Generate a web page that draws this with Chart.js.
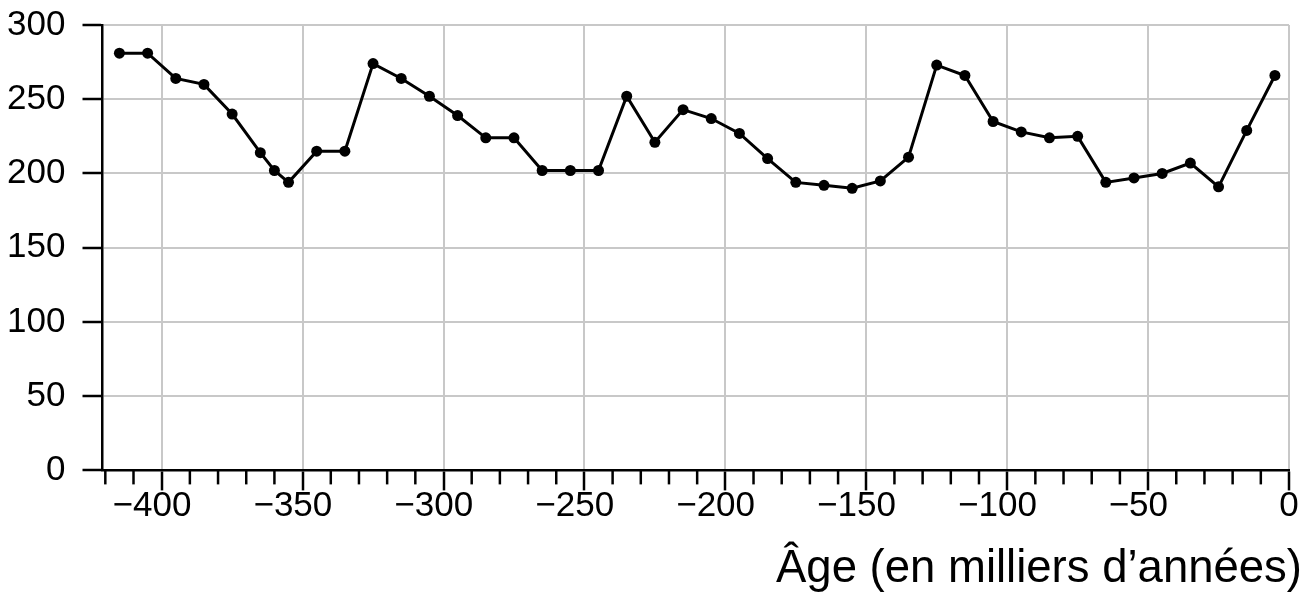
<!DOCTYPE html>
<html>
<head>
<meta charset="utf-8">
<script src="https://cdn.jsdelivr.net/npm/chart.js@4/dist/chart.umd.min.js"></script>
<style>
    body { margin: 0; background: #fff; }
    #wrap { width: 1316px; height: 597px; }
</style>
</head>
<body>
<div id="wrap"><canvas id="canvas"></canvas></div>
<script>
// ages in thousands of years, one sample every 10 ka
var ages = [-415, -405, -395, -385, -375, -365, -360, -355, -345, -335,
    -325, -315, -305, -295, -285, -275, -265, -255, -245, -235,
    -225, -215, -205, -195, -185, -175, -165, -155, -145, -135,
    -125, -115, -105, -95, -85, -75, -65, -55, -45, -35,
    -25, -15, -5];
var values = [281, 281, 264, 260, 240, 214, 202, 194, 215, 215,
    274, 264, 252, 239, 224, 224, 202, 202, 202, 252,
    221, 243, 237, 227, 210, 194, 192, 190, 195, 211,
    273, 266, 235, 228, 224, 225, 194, 197, 200, 207,
    191, 229, 266];
var yTicks = [0, 50, 100, 150, 200, 250, 300];
var xTitle = 'Âge (en milliers d’années)';

var FONT = "'Liberation Sans', Arial, sans-serif";

// short ticks every 10 between the labelled ones
var minorTicks = {
    id: 'minorTicks',
    afterDraw: function(chart) {
        var scale = chart.scales.x;
        var ctx = chart.ctx;
        ctx.save();
        ctx.strokeStyle = '#000';
        ctx.lineWidth = 2.5;
        scale.ticks.forEach(function(t) {
            if (t.value % 50 === 0) return;
            var px = scale.getPixelForValue(t.value);
            ctx.beginPath();
            ctx.moveTo(px, scale.top);
            ctx.lineTo(px, scale.top + 14);
            ctx.stroke();
        });
        ctx.restore();
    }
};

var points = ages.map(function(a, i) {
    return { x: a, y: values[i] };
});

function noPadding(s) {
    s.paddingTop = 0;
    s.paddingBottom = 0;
    s.paddingLeft = 0;
    s.paddingRight = 0;
}

var ctx = document.getElementById('canvas').getContext('2d');
var chart = new Chart(ctx, {
    type: 'line',
    data: {
        datasets: [{
            data: points,
            borderColor: '#000',
            backgroundColor: '#000',
            borderWidth: 3,
            pointRadius: 5.5,
            pointBorderWidth: 0,
            tension: 0
        }]
    },
    plugins: [minorTicks],
    options: {
        responsive: true,
        maintainAspectRatio: false,
        animation: false,
        layout: {
            padding: { top: 25, right: 14, bottom: 0, left: 0 }
        },
        plugins: {
            legend: { display: false },
            tooltip: { enabled: false },
            title: {
                display: true,
                position: 'bottom',
                align: 'end',
                text: xTitle,
                color: '#000',
                font: { family: FONT, size: 45.5, weight: 'normal' },
                padding: { top: 12, bottom: 0 }
            }
        },
        scales: {
            x: {
                type: 'linear',
                min: -421,
                max: 0,
                afterFit: function(s) { s.height = 60; noPadding(s); },
                border: { color: '#000', width: 2.5 },
                grid: {
                    color: function(c) {
                        return c.tick && c.tick.value % 50 === 0 ? '#c8c8c8' : 'rgba(0,0,0,0)';
                    },
                    lineWidth: 2,
                    tickColor: function(c) {
                        return c.tick && c.tick.value % 50 === 0 ? '#000' : 'rgba(0,0,0,0)';
                    },
                    tickWidth: 2.5,
                    tickLength: 20
                },
                ticks: {
                    stepSize: 10,
                    includeBounds: false,
                    autoSkip: false,
                    maxRotation: 0,
                    padding: -5,
                    color: '#000',
                    font: { family: FONT, size: 35 },
                    callback: function(v) {
                        if (v % 50 !== 0) return '';
                        // trailing figure space keeps the digits centred on the tick
                        return v < 0 ? '\u2212' + Math.abs(v) + '\u2007' : '0';
                    }
                }
            },
            y: {
                min: 0,
                max: 300,
                afterFit: function(s) { s.width = 102.5; noPadding(s); },
                afterBuildTicks: function(s) {
                    s.ticks = yTicks.map(function(v) { return { value: v }; });
                },
                border: { color: '#000', width: 2.5 },
                grid: {
                    color: '#c8c8c8',
                    lineWidth: 2,
                    tickColor: '#000',
                    tickWidth: 2.5,
                    tickLength: 20
                },
                ticks: {
                    padding: 17,
                    color: '#000',
                    font: { family: FONT, size: 35 }
                }
            },
            // empty axis that keeps the plot 13px short of the title's right end
            r: {
                position: 'right',
                afterFit: function(s) { s.width = 13; noPadding(s); },
                border: { display: false },
                grid: { display: false },
                ticks: { display: false }
            }
        }
    }
});
</script>
</body>
</html>
